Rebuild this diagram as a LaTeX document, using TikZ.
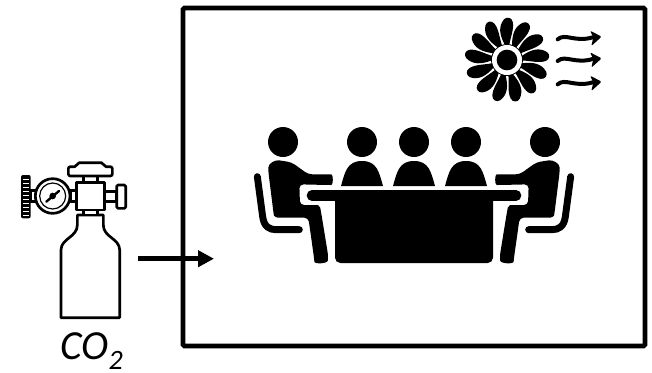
\documentclass[tikz,border=0pt]{standalone}
\usepackage{fontspec}
\setmainfont{Carlito}
\usetikzlibrary{arrows.meta}
\tikzset{
  frame/.style={draw=black,line width=3.4pt,rounded corners=1pt,inner sep=0pt,minimum width=346.5pt,minimum height=253.5pt},
  flow/.style={draw=black,line width=3.5pt,-{Triangle[length=12pt,width=12pt]}},
  outline/.style={draw=black,line width=2pt,fill=white,line join=round},
  ink/.style={fill=black,draw=none},
  limb/.style={draw=black,line cap=round,line join=round},
  tanklabel/.style={inner sep=0pt,anchor=base west,font=\fontsize{31}{31}\selectfont\itshape}
}
\begin{document}
\begin{tikzpicture}[x=0.75pt,y=-0.75pt]
\useasboundingbox (0,0) rectangle (652,372);
\fill[white] (0,0) rectangle (652,372);
% room
\node[frame] (room) at (414,177) {};
% feed arrow
\coordinate (feedA) at (138,258.7);
\coordinate (feedB) at (214,258.7);
\draw[flow] (feedA) -- (feedB);
% label
\node[tanklabel] (co2) at (60,359) {CO\raisebox{-7.5pt}{\fontsize{21}{21}\selectfont 2}};
% cylinder
\begin{scope}[shift={(0,150)},x=0.25pt,y=-0.25pt]
  \draw[outline] (183,503) -- (183,300) .. controls (183,265) and (232,262) .. (232,225) -- (232,195) -- (310,195) -- (310,225) .. controls (310,262) and (359,265) .. (359,300) -- (359,503) -- cycle;
  \draw[outline] (250,180) rectangle (292,195);
  \draw[outline] (250,78) rectangle (292,97);
  \draw[outline,rounded corners=1.5pt] (205,50) -- (230,50) -- (232,38) -- (310,38) -- (312,50) -- (337,50) -- (337,78) -- (205,78) -- cycle;
  \draw[outline] (230,97) rectangle (313,180);
  \draw[outline] (313,125) rectangle (350,155);
  \draw[outline,rounded corners=1pt] (350,105) rectangle (377,175);
  \draw[outline] (212,122) rectangle (230,155);
  \draw[outline] (92,122) rectangle (108,155);
  \draw[outline] (158,138) circle (52);
  \draw[black,line width=0.9pt] (158,138) circle (39);
  \draw[black,line width=1.8pt,line cap=round] (139,155) -- (177,123);
  \fill (158,138) circle (10);
  \fill[rounded corners=1.5pt] (63,75) rectangle (92,205);
  \foreach \yy in {88,100,...,196}{\draw[white,line width=0.9pt] (69,\yy) -- (86,\yy);}
\end{scope}
% fan
\begin{scope}[shift={(507,60)},x=0.25pt,y=0.25pt]
  \foreach \aa in {0,27.7,...,340}{
    \fill[rotate=\aa] (-7,46) .. controls (-22,75) and (-27,100) .. (-9,122) .. controls (-1,131) and (14,128) .. (17,115) .. controls (22,95) and (11,70) .. (7,46) -- cycle;
  }
  \draw[black,line width=0.9pt] (0,0) circle (46);
  \fill[white] (0,0) circle (45);
  \fill[black] (0,0) circle (31);
\end{scope}
% wind
\begin{scope}[shift={(450,10)},x=0.25pt,y=-0.25pt]
  \foreach \dd in {0,65,135}{
    \begin{scope}[yshift=-\dd*0.25pt]
      \draw[limb,line width=3pt] (323,88) .. controls (345,68) and (375,98) .. (428,82);
      \fill[rounded corners=1pt] (420,62) -- (455,80) -- (424,108) -- (430,82) -- cycle;
    \end{scope}
  }
\end{scope}
% heads
\foreach \hx/\hn in {283/a,362/b,414/c,466/d,545/e}{
  \fill (\hx,142) circle (15);
}
% busts
\foreach \bx in {362,414,466}{
  \fill[shift={(\bx,0)}] (-21,186) .. controls (-17,172) and (-15,161) .. (0,161) .. controls (15,161) and (17,172) .. (21,186) -- cycle;
}
% table
\fill[rounded corners=4pt] (335,195) rectangle (493,263);
\draw[limb,line width=8pt] (312,195.5) -- (516,195.5);
% seated people
\foreach \sx/\xs in {240/0.25,588/-0.25}{
\begin{scope}[shift={(\sx,115)},x=\xs pt,y=-0.25pt]
  \draw[limb,line width=5.2pt] (52,185) -- (68,305) .. controls (72,335) and (88,344) .. (108,344) -- (178,344);
  \fill[rounded corners=3pt] (130,138) .. controls (105,134) and (85,145) .. (85,170) -- (100,290) .. controls (102,303) and (110,308) .. (125,308) -- (205,308) -- (222,428) .. controls (224,448) and (262,446) .. (265,425) -- (243,290) .. controls (240,275) and (232,270) .. (222,270) -- (180,270) -- (178,208) -- (262,210) .. controls (280,210) and (280,178) .. (262,178) -- (205,178) -- (155,142) -- cycle;
\end{scope}
}
\end{tikzpicture}
\end{document}
